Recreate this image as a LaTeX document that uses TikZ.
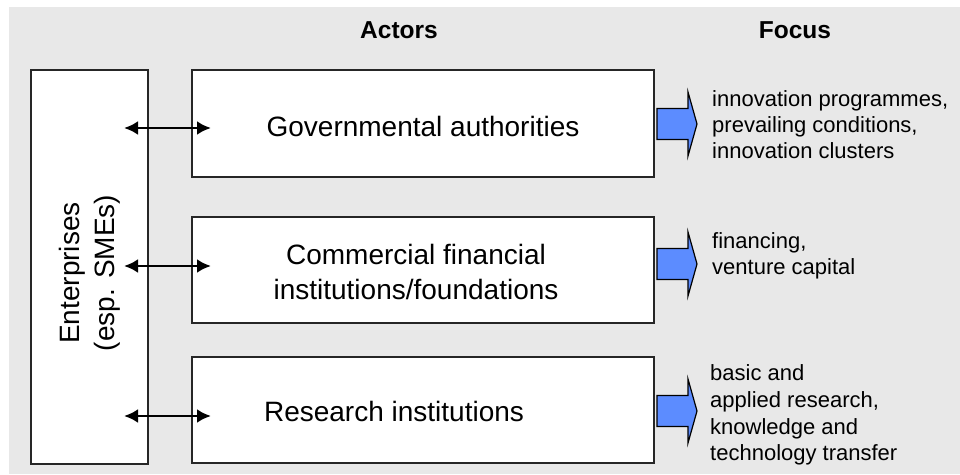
\documentclass[tikz,border=0pt]{standalone}
\usepackage{fontspec}
\setmainfont{Liberation Sans}
\usetikzlibrary{arrows.meta}
\definecolor{bg}{RGB}{232,232,232}
\definecolor{arrowblue}{RGB}{92,140,255}
\begin{document}
\begin{tikzpicture}[x=1pt,y=-1pt,
  box/.style={draw=black!85, line width=1.3pt, fill=white, inner sep=0pt, outer sep=0pt},
  big/.style={font=\fontsize{28}{35}\selectfont, align=center},
  small/.style={font=\fontsize{22}{26}\selectfont, align=left, anchor=west, inner sep=0pt},
  headtext/.style={font=\bfseries\fontsize{24.5}{28}\selectfont},
  link/.style={line width=2.8pt, {Latex[length=14pt,width=14pt]}-{Latex[length=14pt,width=14pt]}},
  focusarrow/.style={draw=black, line width=1.2pt, fill=arrowblue, line join=miter}]
\useasboundingbox (0,0) rectangle (960,474);
\fill[bg] (9,7) rectangle (960,474);

% headers
\node[headtext] (actors) at (399,30) {Actors};
\node[headtext] (focus) at (795,30) {Focus};

% boxes
\node[box, minimum width=117pt, minimum height=394pt] (ent) at (89.5,267) {};
\node[big, rotate=90] (enttext) at (90,273) {Enterprises\\(esp. SMEs)};
\node[box, minimum width=462pt, minimum height=107pt] (gov) at (423,123.5) {};
\node[box, minimum width=462pt, minimum height=106pt] (com) at (423,270) {};
\node[box, minimum width=462pt, minimum height=106pt] (res) at (423,410) {};

\node[big] (govtext) at (423,126) {Governmental authorities};
\node[big] (comtext) at (416,272) {Commercial financial\\institutions/foundations};
\node[big] (restext) at (394,411) {Research institutions};

% double arrows
\coordinate (e1) at (124,128); \coordinate (g1) at (211,128);
\coordinate (e2) at (124,266); \coordinate (g2) at (211,266);
\coordinate (e3) at (124,416); \coordinate (g3) at (211,416);
\draw[link] (e1) -- (g1);
\draw[link] (e2) -- (g2);
\draw[link] (e3) -- (g3);

% blue block arrows
\foreach \c in {124,264,411}{
  \draw[focusarrow] (657,\c-15.5) -- (688,\c-15.5) -- (688,\c-32) -- (697,\c)
    -- (688,\c+32) -- (688,\c+15.5) -- (657,\c+15.5) -- cycle;
}

% focus texts
\node[small] (f1) at (712,125) {innovation programmes,\\prevailing conditions,\\innovation clusters};
\node[small] (f2) at (712,256) {financing,\\venture capital};
\node[small, font=\fontsize{22}{26.7}\selectfont] (f3) at (710,415) {basic and\\applied research,\\knowledge and\\technology transfer};
\end{tikzpicture}
\end{document}
